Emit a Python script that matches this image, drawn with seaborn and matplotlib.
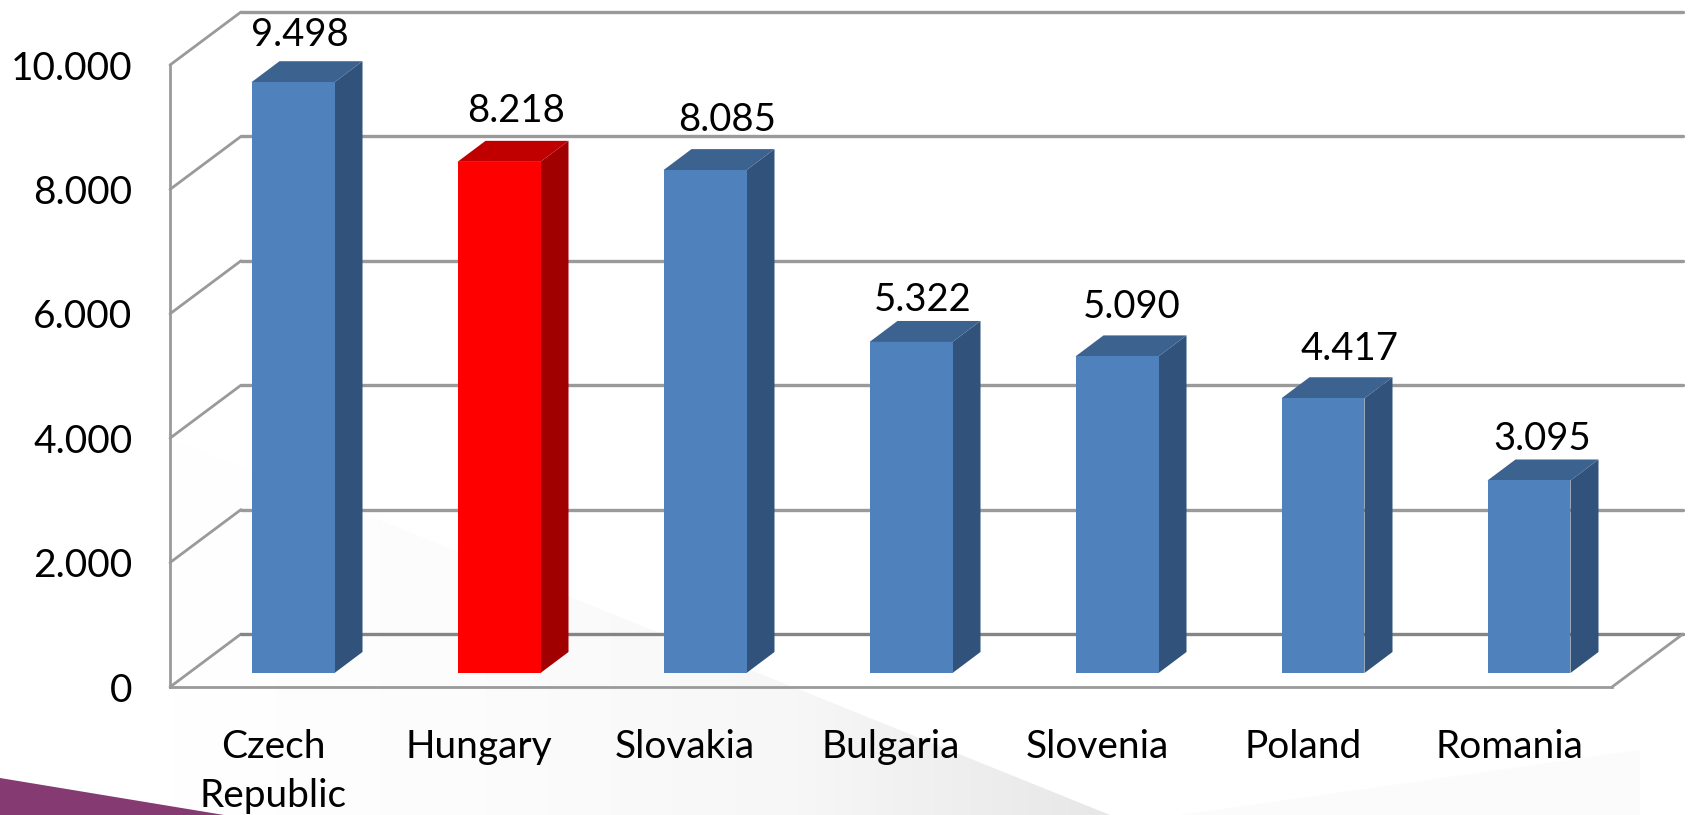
import matplotlib.pyplot as plt
import numpy as np
import pandas as pd
import seaborn as sns
from matplotlib.colors import LinearSegmentedColormap

countries = ['Czech\nRepublic', 'Hungary', 'Slovakia', 'Bulgaria', 'Slovenia', 'Poland', 'Romania']
values = [9498, 8218, 8085, 5322, 5090, 4417, 3095]
value_labels = ['9.498', '8.218', '8.085', '5.322', '5.090', '4.417', '3.095']
bar_colors = ['#4f81bd', '#ff0000', '#4f81bd', '#4f81bd', '#4f81bd', '#4f81bd', '#4f81bd']
side_colors = ['#31527b', '#a00000', '#31527b', '#31527b', '#31527b', '#31527b', '#31527b']
top_colors = ['#3c628f', '#c00000', '#3c628f', '#3c628f', '#3c628f', '#3c628f', '#3c628f']
y_ticks = [0, 2000, 4000, 6000, 8000, 10000]
y_tick_labels = ['0', '2.000', '4.000', '6.000', '8.000', '10.000']

# fake 3d, depths in data units
AX_W = 1442
PX_X = AX_W / 7
PX_Y = 622 / 10000
WALL_DX = 71 / PX_X
WALL_DY = 53 / PX_Y
BAR_DX = 28 / PX_X
BAR_DY = 21 / PX_Y
BAR_LIFT = 14 / PX_Y
BAR_SHIFT = 20 / PX_X
BAR_WIDTH = 83 / PX_X

GRID = '#9a9a9a'
FLOOR = '#858585'
# label nudges in pixels, the labels do not sit evenly over the bars
label_dx = [7, 17, 22, 12, 15, 27, 13]
label_dy = [47, 51, 50, 42, 49, 49, 41]

sns.set_style('white')
plt.rcParams['font.family'] = ['Lato', 'DejaVu Sans']

fig = plt.figure(figsize=(16.89, 8.15), dpi=100)

# slide background behind the chart, in pixels
bg = fig.add_axes([0, 0, 1, 1], zorder=0)
wedge_cmap = LinearSegmentedColormap.from_list('wedge', ['#ffffff', '#fdfcfc', '#f8f7f7', '#e7e7e7'])
shade = np.linspace(0, 1, 256).reshape(1, -1)
im = bg.imshow(shade, extent=[170, 1110, 815, 440], aspect='auto', cmap=wedge_cmap, vmin=0, vmax=1)
im.set_clip_path(plt.Polygon([(170, 440), (330, 500), (1110, 815), (170, 815)], transform=bg.transData))
bg.fill([1180, 1640, 1640], [815, 750, 815], color='#fbfbfb', lw=0)
bg.fill([0, 224, 0], [778, 815, 815], color='#853a72', lw=0)
bg.set_xlim(0, 1689)
bg.set_ylim(815, 0)
bg.axis('off')

ax = fig.add_axes([170 / 1689, 1 - 687 / 815, AX_W / 1689, 622 / 815], zorder=1)
ax.patch.set_alpha(0)

df = pd.DataFrame({'country': countries, 'value': values})
sns.barplot(data=df, x='country', y='value', hue='country', palette=bar_colors, legend=False,
            width=BAR_WIDTH, bottom=BAR_LIFT, saturation=1, linewidth=0, ax=ax, zorder=3)

ax.set_xlim(-0.5, 6.5)
ax.set_ylim(0, 10000)

# back wall and floor
for t in y_ticks:
    line_color = FLOOR if t == 0 else GRID
    ax.plot([-0.5, -0.5 + WALL_DX], [t, t + WALL_DY], color=GRID, lw=2, clip_on=False, zorder=1)
    ax.plot([-0.5 + WALL_DX, 6.5 + WALL_DX], [t + WALL_DY, t + WALL_DY], color=line_color, lw=2.4, clip_on=False, zorder=1)
ax.plot([6.5, 6.5 + WALL_DX], [0, WALL_DY], color=GRID, lw=2, clip_on=False, zorder=1)

for i, bar in enumerate(ax.patches):
    bar.set_x(bar.get_x() + BAR_SHIFT)
    x0 = bar.get_x()
    x1 = x0 + BAR_WIDTH
    y0 = BAR_LIFT
    y1 = BAR_LIFT + values[i]
    ax.fill([x1, x1 + BAR_DX, x1 + BAR_DX, x1], [y0, y0 + BAR_DY, y1 + BAR_DY, y1],
            color=side_colors[i], lw=0, clip_on=False, zorder=2)
    ax.fill([x0, x0 + BAR_DX, x1 + BAR_DX, x1], [y1, y1 + BAR_DY, y1 + BAR_DY, y1],
            color=top_colors[i], lw=0, clip_on=False, zorder=2)
    ax.annotate(value_labels[i], xy=(x0 + BAR_WIDTH / 2, y1), xytext=(label_dx[i], label_dy[i]),
                textcoords='offset pixels', ha='center', va='center', fontsize=27.5, color='black',
                annotation_clip=False, zorder=4)

ax.set_xlabel('')
ax.set_ylabel('')
ax.set_yticks(y_ticks)
ax.set_yticklabels(y_tick_labels)
ax.set_xticks(np.arange(-0.5, 7), minor=True)
ax.set_xticks(range(7))
ax.set_xticklabels(countries, linespacing=1.45)
ax.tick_params(axis='x', which='major', length=0, pad=30, labelsize=28, colors='black')
ax.tick_params(axis='x', which='minor', length=10, width=1.6, color=GRID)
ax.tick_params(axis='y', length=10, width=1.6, color=GRID, pad=17, labelsize=28, labelcolor='black')
sns.despine(ax=ax, top=True, right=True)
for s in ['left', 'bottom']:
    ax.spines[s].set_color(GRID)
    ax.spines[s].set_linewidth(2)

fig.savefig('out.png', dpi=100)
